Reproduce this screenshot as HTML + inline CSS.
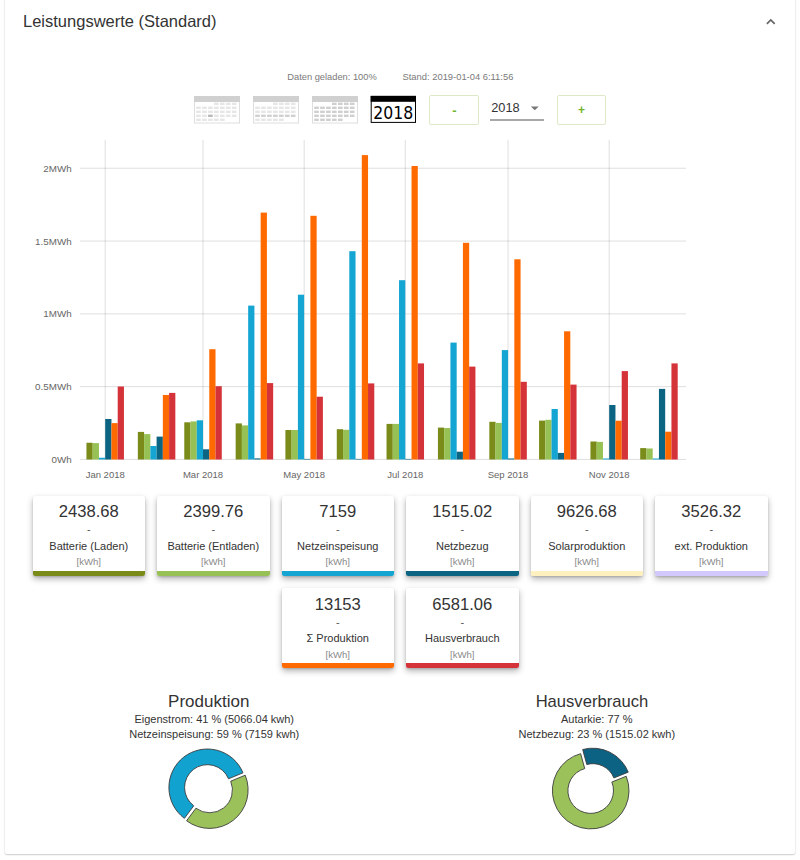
<!DOCTYPE html>
<html><head><meta charset="utf-8"><title>Leistungswerte</title>
<style>
html,body{margin:0;padding:0;background:#fff;}
body{width:800px;height:860px;position:relative;overflow:hidden;font-family:"Liberation Sans",Arial,sans-serif;}
.card{position:absolute;left:5px;top:-20px;width:790px;height:873.8px;background:#fff;border-radius:2px;
 box-shadow:0 1px 1.5px rgba(0,0,0,0.17),0 0 2.5px rgba(0,0,0,0.10);}
.btn{position:absolute;top:95.2px;width:47.6px;height:27.5px;border:1.1px solid #dde9c6;border-radius:2px;background:#fff;}
.sel{position:absolute;left:490.3px;top:119.3px;width:53.6px;height:1.3px;background:#a8a8a8;}
.lc{position:absolute;width:112.5px;height:80px;background:#fff;border-radius:2px;overflow:hidden;
 box-shadow:0 3px 6px rgba(0,0,0,0.30),0 1px 2px rgba(0,0,0,0.14);}
.lc i{position:absolute;left:0;right:0;bottom:0;height:4.6px;}
svg{position:absolute;left:0;top:0;}
.g{stroke:#000;stroke-opacity:0.13;stroke-width:1;}
.yl{font-size:9.8px;fill:#666;text-anchor:end;}
.xl{font-size:9.5px;fill:#666;text-anchor:middle;}
.ds{stroke:#3c3c3c;stroke-width:0.9;}
.t{font-family:"Liberation Sans",Arial,sans-serif;}
.v{font-size:16.6px;fill:#333;text-anchor:middle;}
.d{font-size:11px;fill:#555;text-anchor:middle;}
.l{font-size:11px;fill:#333;text-anchor:middle;}
.u{font-size:9.6px;fill:#8a8a8a;text-anchor:middle;}
</style></head><body>
<div class="card"></div>
<div class="btn" style="left:429px"></div>
<div class="btn" style="left:556.7px"></div>
<div class="sel"></div>
<div class="lc" style="left:32.5px;top:495.5px"><i style="background:#7b8b1a"></i></div>
<div class="lc" style="left:157px;top:495.5px"><i style="background:#97c154"></i></div>
<div class="lc" style="left:281.5px;top:495.5px"><i style="background:#14a5d3"></i></div>
<div class="lc" style="left:406px;top:495.5px"><i style="background:#0b6482"></i></div>
<div class="lc" style="left:530.5px;top:495.5px"><i style="background:#fff0c0"></i></div>
<div class="lc" style="left:655px;top:495.5px"><i style="background:#d2c8fb"></i></div>
<div class="lc" style="left:281.5px;top:588px"><i style="background:#ff6a00"></i></div>
<div class="lc" style="left:406px;top:588px"><i style="background:#d5333a"></i></div>
<svg width="800" height="860" viewBox="0 0 800 860" class="t">
<text x="23" y="26.5" style="font-size:16.5px;fill:#333">Leistungswerte (Standard)</text>
<path d="M766.9,23.8 L770.8,19.9 L774.7,23.8" fill="none" stroke="#666" stroke-width="1.7"/>
<text x="287.3" y="80.2" style="font-size:9.3px;fill:#7a7a7a">Daten geladen: 100%</text>
<text x="402.5" y="80.2" style="font-size:9.4px;fill:#7a7a7a">Stand: 2019-01-04 6:11:56</text>
<g transform="translate(194,96)"><rect x="0.5" y="0.5" width="45" height="26.5" fill="#fff" stroke="#dedede" stroke-width="1"/><rect x="0" y="0" width="46" height="6" fill="#d0d0d0"/><rect x="20.05" y="6.60" width="4.6" height="2.4" fill="#e6e6e6"/><rect x="26.00" y="6.60" width="4.6" height="2.4" fill="#e6e6e6"/><rect x="31.95" y="6.60" width="4.6" height="2.4" fill="#e6e6e6"/><rect x="37.90" y="6.60" width="4.6" height="2.4" fill="#e6e6e6"/><rect x="2.20" y="10.60" width="4.6" height="2.4" fill="#e6e6e6"/><rect x="8.15" y="10.60" width="4.6" height="2.4" fill="#e6e6e6"/><rect x="14.10" y="10.60" width="4.6" height="2.4" fill="#e6e6e6"/><rect x="20.05" y="10.60" width="4.6" height="2.4" fill="#e6e6e6"/><rect x="26.00" y="10.60" width="4.6" height="2.4" fill="#e6e6e6"/><rect x="31.95" y="10.60" width="4.6" height="2.4" fill="#e6e6e6"/><rect x="37.90" y="10.60" width="4.6" height="2.4" fill="#e6e6e6"/><rect x="2.20" y="14.60" width="4.6" height="2.4" fill="#e6e6e6"/><rect x="8.15" y="14.60" width="4.6" height="2.4" fill="#e6e6e6"/><rect x="14.10" y="14.60" width="4.6" height="2.4" fill="#e6e6e6"/><rect x="20.05" y="14.60" width="4.6" height="2.4" fill="#e6e6e6"/><rect x="26.00" y="14.60" width="4.6" height="2.4" fill="#e6e6e6"/><rect x="31.95" y="14.60" width="4.6" height="2.4" fill="#e6e6e6"/><rect x="37.90" y="14.60" width="4.6" height="2.4" fill="#e6e6e6"/><rect x="2.20" y="18.60" width="4.6" height="2.4" fill="#e6e6e6"/><rect x="8.15" y="18.60" width="4.6" height="2.4" fill="#e6e6e6"/><rect x="14.10" y="18.60" width="4.6" height="2.4" fill="#b8b8b8"/><rect x="20.05" y="18.60" width="4.6" height="2.4" fill="#e6e6e6"/><rect x="26.00" y="18.60" width="4.6" height="2.4" fill="#e6e6e6"/><rect x="31.95" y="18.60" width="4.6" height="2.4" fill="#e6e6e6"/><rect x="37.90" y="18.60" width="4.6" height="2.4" fill="#e6e6e6"/><rect x="2.20" y="22.60" width="4.6" height="2.4" fill="#e6e6e6"/><rect x="8.15" y="22.60" width="4.6" height="2.4" fill="#e6e6e6"/><rect x="14.10" y="22.60" width="4.6" height="2.4" fill="#e6e6e6"/><rect x="20.05" y="22.60" width="4.6" height="2.4" fill="#e6e6e6"/><rect x="26.00" y="22.60" width="4.6" height="2.4" fill="#e6e6e6"/></g><g transform="translate(253,96)"><rect x="0.5" y="0.5" width="45" height="26.5" fill="#fff" stroke="#dedede" stroke-width="1"/><rect x="0" y="0" width="46" height="6" fill="#d0d0d0"/><rect x="20.05" y="6.60" width="4.6" height="2.4" fill="#e6e6e6"/><rect x="26.00" y="6.60" width="4.6" height="2.4" fill="#e6e6e6"/><rect x="31.95" y="6.60" width="4.6" height="2.4" fill="#e6e6e6"/><rect x="37.90" y="6.60" width="4.6" height="2.4" fill="#e6e6e6"/><rect x="2.20" y="10.60" width="4.6" height="2.4" fill="#e6e6e6"/><rect x="8.15" y="10.60" width="4.6" height="2.4" fill="#e6e6e6"/><rect x="14.10" y="10.60" width="4.6" height="2.4" fill="#e6e6e6"/><rect x="20.05" y="10.60" width="4.6" height="2.4" fill="#e6e6e6"/><rect x="26.00" y="10.60" width="4.6" height="2.4" fill="#e6e6e6"/><rect x="31.95" y="10.60" width="4.6" height="2.4" fill="#e6e6e6"/><rect x="37.90" y="10.60" width="4.6" height="2.4" fill="#e6e6e6"/><rect x="2.20" y="14.60" width="4.6" height="2.4" fill="#e6e6e6"/><rect x="8.15" y="14.60" width="4.6" height="2.4" fill="#e6e6e6"/><rect x="14.10" y="14.60" width="4.6" height="2.4" fill="#e6e6e6"/><rect x="20.05" y="14.60" width="4.6" height="2.4" fill="#e6e6e6"/><rect x="26.00" y="14.60" width="4.6" height="2.4" fill="#e6e6e6"/><rect x="31.95" y="14.60" width="4.6" height="2.4" fill="#e6e6e6"/><rect x="37.90" y="14.60" width="4.6" height="2.4" fill="#e6e6e6"/><rect x="2.20" y="18.60" width="4.6" height="2.4" fill="#d0d0d0"/><rect x="8.15" y="18.60" width="4.6" height="2.4" fill="#d0d0d0"/><rect x="14.10" y="18.60" width="4.6" height="2.4" fill="#d0d0d0"/><rect x="20.05" y="18.60" width="4.6" height="2.4" fill="#d0d0d0"/><rect x="26.00" y="18.60" width="4.6" height="2.4" fill="#d0d0d0"/><rect x="31.95" y="18.60" width="4.6" height="2.4" fill="#d0d0d0"/><rect x="37.90" y="18.60" width="4.6" height="2.4" fill="#d0d0d0"/><rect x="2.20" y="22.60" width="4.6" height="2.4" fill="#e6e6e6"/><rect x="8.15" y="22.60" width="4.6" height="2.4" fill="#e6e6e6"/><rect x="14.10" y="22.60" width="4.6" height="2.4" fill="#e6e6e6"/><rect x="20.05" y="22.60" width="4.6" height="2.4" fill="#e6e6e6"/><rect x="26.00" y="22.60" width="4.6" height="2.4" fill="#e6e6e6"/></g><g transform="translate(312,96)"><rect x="0.5" y="0.5" width="45" height="26.5" fill="#fff" stroke="#dedede" stroke-width="1"/><rect x="0" y="0" width="46" height="6" fill="#d0d0d0"/><rect x="20.05" y="6.60" width="4.6" height="2.4" fill="#cfcfcf"/><rect x="26.00" y="6.60" width="4.6" height="2.4" fill="#cfcfcf"/><rect x="31.95" y="6.60" width="4.6" height="2.4" fill="#cfcfcf"/><rect x="37.90" y="6.60" width="4.6" height="2.4" fill="#cfcfcf"/><rect x="2.20" y="10.60" width="4.6" height="2.4" fill="#cfcfcf"/><rect x="8.15" y="10.60" width="4.6" height="2.4" fill="#cfcfcf"/><rect x="14.10" y="10.60" width="4.6" height="2.4" fill="#cfcfcf"/><rect x="20.05" y="10.60" width="4.6" height="2.4" fill="#cfcfcf"/><rect x="26.00" y="10.60" width="4.6" height="2.4" fill="#cfcfcf"/><rect x="31.95" y="10.60" width="4.6" height="2.4" fill="#cfcfcf"/><rect x="37.90" y="10.60" width="4.6" height="2.4" fill="#cfcfcf"/><rect x="2.20" y="14.60" width="4.6" height="2.4" fill="#cfcfcf"/><rect x="8.15" y="14.60" width="4.6" height="2.4" fill="#cfcfcf"/><rect x="14.10" y="14.60" width="4.6" height="2.4" fill="#cfcfcf"/><rect x="20.05" y="14.60" width="4.6" height="2.4" fill="#cfcfcf"/><rect x="26.00" y="14.60" width="4.6" height="2.4" fill="#cfcfcf"/><rect x="31.95" y="14.60" width="4.6" height="2.4" fill="#cfcfcf"/><rect x="37.90" y="14.60" width="4.6" height="2.4" fill="#cfcfcf"/><rect x="2.20" y="18.60" width="4.6" height="2.4" fill="#cfcfcf"/><rect x="8.15" y="18.60" width="4.6" height="2.4" fill="#cfcfcf"/><rect x="14.10" y="18.60" width="4.6" height="2.4" fill="#cfcfcf"/><rect x="20.05" y="18.60" width="4.6" height="2.4" fill="#cfcfcf"/><rect x="26.00" y="18.60" width="4.6" height="2.4" fill="#cfcfcf"/><rect x="31.95" y="18.60" width="4.6" height="2.4" fill="#cfcfcf"/><rect x="37.90" y="18.60" width="4.6" height="2.4" fill="#cfcfcf"/><rect x="2.20" y="22.60" width="4.6" height="2.4" fill="#cfcfcf"/><rect x="8.15" y="22.60" width="4.6" height="2.4" fill="#cfcfcf"/><rect x="14.10" y="22.60" width="4.6" height="2.4" fill="#cfcfcf"/><rect x="20.05" y="22.60" width="4.6" height="2.4" fill="#cfcfcf"/><rect x="26.00" y="22.60" width="4.6" height="2.4" fill="#cfcfcf"/></g>
<g>
<rect x="371.2" y="96.4" width="44.3" height="26" fill="#fff" stroke="#000" stroke-width="1"/>
<rect x="370.7" y="95.9" width="45.3" height="5.9" fill="#000"/>
<text x="0" y="0" transform="translate(393.2,118.5) scale(0.93,1)" style="font-family:'DejaVu Sans',sans-serif;font-size:16.9px;fill:#000;text-anchor:middle">2018</text>
</g>
<text x="454.3" y="114.6" style="font-size:13px;font-weight:bold;fill:#72b52c;text-anchor:middle">-</text>
<text x="491.2" y="111.75" style="font-size:12.8px;fill:#333">2018</text>
<path d="M530.9,106.5 L538.7,106.5 L534.8,110.3Z" fill="#777"/>
<text x="581.4" y="114" style="font-size:12px;font-weight:bold;fill:#72b52c;text-anchor:middle">+</text>
<line x1="80" x2="686" y1="459.45" y2="459.45" class="g"/>
<text x="71.6" y="462.95" class="yl">0Wh</text>
<line x1="80" x2="686" y1="386.65" y2="386.65" class="g"/>
<text x="71.6" y="390.15" class="yl">0.5MWh</text>
<line x1="80" x2="686" y1="313.85" y2="313.85" class="g"/>
<text x="71.6" y="317.35" class="yl">1MWh</text>
<line x1="80" x2="686" y1="241.05" y2="241.05" class="g"/>
<text x="71.6" y="244.55" class="yl">1.5MWh</text>
<line x1="80" x2="686" y1="168.25" y2="168.25" class="g"/>
<text x="71.6" y="171.75" class="yl">2MWh</text>
<line x1="105.20" x2="105.20" y1="139.8" y2="459.50" class="g"/>
<text x="105.20" y="477.9" class="xl">Jan 2018</text>
<line x1="203.02" x2="203.02" y1="139.8" y2="459.50" class="g"/>
<text x="203.02" y="477.9" class="xl">Mar 2018</text>
<line x1="304.15" x2="304.15" y1="139.8" y2="459.50" class="g"/>
<text x="304.15" y="477.9" class="xl">May 2018</text>
<line x1="405.28" x2="405.28" y1="139.8" y2="459.50" class="g"/>
<text x="405.28" y="477.9" class="xl">Jul 2018</text>
<line x1="508.07" x2="508.07" y1="139.8" y2="459.50" class="g"/>
<text x="508.07" y="477.9" class="xl">Sep 2018</text>
<line x1="609.20" x2="609.20" y1="139.8" y2="459.50" class="g"/>
<text x="609.20" y="477.9" class="xl">Nov 2018</text>
<rect x="86.45" y="442.75" width="6.25" height="16.75" fill="#7b8b1a"/>
<rect x="92.70" y="443.10" width="6.25" height="16.40" fill="#97c154"/>
<rect x="98.95" y="457.75" width="6.25" height="1.75" fill="#14a5d3"/>
<rect x="105.20" y="419.00" width="6.25" height="40.50" fill="#0b6482"/>
<rect x="111.45" y="423.10" width="6.25" height="36.40" fill="#ff6a00"/>
<rect x="117.70" y="386.50" width="6.25" height="73.00" fill="#d5333a"/>
<rect x="137.84" y="431.90" width="6.25" height="27.60" fill="#7b8b1a"/>
<rect x="144.09" y="434.10" width="6.25" height="25.40" fill="#97c154"/>
<rect x="150.34" y="446.00" width="6.25" height="13.50" fill="#14a5d3"/>
<rect x="156.59" y="436.60" width="6.25" height="22.90" fill="#0b6482"/>
<rect x="162.84" y="395.00" width="6.25" height="64.50" fill="#ff6a00"/>
<rect x="169.09" y="392.90" width="6.25" height="66.60" fill="#d5333a"/>
<rect x="184.27" y="422.30" width="6.25" height="37.20" fill="#7b8b1a"/>
<rect x="190.52" y="421.40" width="6.25" height="38.10" fill="#97c154"/>
<rect x="196.77" y="420.30" width="6.25" height="39.20" fill="#14a5d3"/>
<rect x="203.02" y="449.30" width="6.25" height="10.20" fill="#0b6482"/>
<rect x="209.27" y="349.20" width="6.25" height="110.30" fill="#ff6a00"/>
<rect x="215.52" y="386.20" width="6.25" height="73.30" fill="#d5333a"/>
<rect x="235.66" y="423.40" width="6.25" height="36.10" fill="#7b8b1a"/>
<rect x="241.91" y="425.40" width="6.25" height="34.10" fill="#97c154"/>
<rect x="248.16" y="305.60" width="6.25" height="153.90" fill="#14a5d3"/>
<rect x="254.41" y="458.40" width="6.25" height="1.10" fill="#0b6482"/>
<rect x="260.66" y="212.60" width="6.25" height="246.90" fill="#ff6a00"/>
<rect x="266.91" y="383.10" width="6.25" height="76.40" fill="#d5333a"/>
<rect x="285.40" y="430.00" width="6.25" height="29.50" fill="#7b8b1a"/>
<rect x="291.65" y="430.00" width="6.25" height="29.50" fill="#97c154"/>
<rect x="297.90" y="294.70" width="6.25" height="164.80" fill="#14a5d3"/>
<rect x="304.15" y="458.90" width="6.25" height="0.60" fill="#0b6482"/>
<rect x="310.40" y="215.80" width="6.25" height="243.70" fill="#ff6a00"/>
<rect x="316.65" y="396.70" width="6.25" height="62.80" fill="#d5333a"/>
<rect x="336.79" y="429.20" width="6.25" height="30.30" fill="#7b8b1a"/>
<rect x="343.04" y="429.80" width="6.25" height="29.70" fill="#97c154"/>
<rect x="349.29" y="251.20" width="6.25" height="208.30" fill="#14a5d3"/>
<rect x="355.54" y="458.90" width="6.25" height="0.60" fill="#0b6482"/>
<rect x="361.79" y="155.10" width="6.25" height="304.40" fill="#ff6a00"/>
<rect x="368.04" y="383.40" width="6.25" height="76.10" fill="#d5333a"/>
<rect x="386.53" y="423.90" width="6.25" height="35.60" fill="#7b8b1a"/>
<rect x="392.78" y="423.90" width="6.25" height="35.60" fill="#97c154"/>
<rect x="399.03" y="280.20" width="6.25" height="179.30" fill="#14a5d3"/>
<rect x="405.28" y="458.90" width="6.25" height="0.60" fill="#0b6482"/>
<rect x="411.53" y="166.00" width="6.25" height="293.50" fill="#ff6a00"/>
<rect x="417.78" y="363.40" width="6.25" height="96.10" fill="#d5333a"/>
<rect x="437.92" y="427.60" width="6.25" height="31.90" fill="#7b8b1a"/>
<rect x="444.17" y="428.00" width="6.25" height="31.50" fill="#97c154"/>
<rect x="450.42" y="342.60" width="6.25" height="116.90" fill="#14a5d3"/>
<rect x="456.67" y="451.70" width="6.25" height="7.80" fill="#0b6482"/>
<rect x="462.92" y="242.80" width="6.25" height="216.70" fill="#ff6a00"/>
<rect x="469.17" y="366.60" width="6.25" height="92.90" fill="#d5333a"/>
<rect x="489.32" y="421.80" width="6.25" height="37.70" fill="#7b8b1a"/>
<rect x="495.57" y="422.90" width="6.25" height="36.60" fill="#97c154"/>
<rect x="501.82" y="350.10" width="6.25" height="109.40" fill="#14a5d3"/>
<rect x="508.07" y="458.50" width="6.25" height="1.00" fill="#0b6482"/>
<rect x="514.32" y="259.30" width="6.25" height="200.20" fill="#ff6a00"/>
<rect x="520.57" y="381.80" width="6.25" height="77.70" fill="#d5333a"/>
<rect x="539.06" y="420.60" width="6.25" height="38.90" fill="#7b8b1a"/>
<rect x="545.31" y="419.80" width="6.25" height="39.70" fill="#97c154"/>
<rect x="551.56" y="409.00" width="6.25" height="50.50" fill="#14a5d3"/>
<rect x="557.81" y="452.90" width="6.25" height="6.60" fill="#0b6482"/>
<rect x="564.06" y="331.30" width="6.25" height="128.20" fill="#ff6a00"/>
<rect x="570.31" y="384.60" width="6.25" height="74.90" fill="#d5333a"/>
<rect x="590.45" y="441.50" width="6.25" height="18.00" fill="#7b8b1a"/>
<rect x="596.70" y="441.90" width="6.25" height="17.60" fill="#97c154"/>
<rect x="602.95" y="458.50" width="6.25" height="1.00" fill="#14a5d3"/>
<rect x="609.20" y="405.00" width="6.25" height="54.50" fill="#0b6482"/>
<rect x="615.45" y="420.70" width="6.25" height="38.80" fill="#ff6a00"/>
<rect x="621.70" y="371.10" width="6.25" height="88.40" fill="#d5333a"/>
<rect x="640.19" y="448.10" width="6.25" height="11.40" fill="#7b8b1a"/>
<rect x="646.44" y="448.50" width="6.25" height="11.00" fill="#97c154"/>
<rect x="652.69" y="458.50" width="6.25" height="1.00" fill="#14a5d3"/>
<rect x="658.94" y="388.90" width="6.25" height="70.60" fill="#0b6482"/>
<rect x="665.19" y="431.70" width="6.25" height="27.80" fill="#ff6a00"/>
<rect x="671.44" y="363.40" width="6.25" height="96.10" fill="#d5333a"/>
<!-- legend texts -->
<g>
<text x="88.75" y="517" class="v">2438.68</text><text x="88.75" y="533" class="d">-</text><text x="88.75" y="549.75" class="l">Batterie (Laden)</text><text x="88.75" y="565" class="u">[kWh]</text>
<text x="213.25" y="517" class="v">2399.76</text><text x="213.25" y="533" class="d">-</text><text x="213.25" y="549.75" class="l">Batterie (Entladen)</text><text x="213.25" y="565" class="u">[kWh]</text>
<text x="337.75" y="517" class="v">7159</text><text x="337.75" y="533" class="d">-</text><text x="337.75" y="549.75" class="l">Netzeinspeisung</text><text x="337.75" y="565" class="u">[kWh]</text>
<text x="462.25" y="517" class="v">1515.02</text><text x="462.25" y="533" class="d">-</text><text x="462.25" y="549.75" class="l">Netzbezug</text><text x="462.25" y="565" class="u">[kWh]</text>
<text x="586.75" y="517" class="v">9626.68</text><text x="586.75" y="533" class="d">-</text><text x="586.75" y="549.75" class="l">Solarproduktion</text><text x="586.75" y="565" class="u">[kWh]</text>
<text x="711.25" y="517" class="v">3526.32</text><text x="711.25" y="533" class="d">-</text><text x="711.25" y="549.75" class="l">ext. Produktion</text><text x="711.25" y="565" class="u">[kWh]</text>
<text x="337.75" y="609.5" class="v">13153</text><text x="337.75" y="625.5" class="d">-</text><text x="337.75" y="642.25" class="l">Σ Produktion</text><text x="337.75" y="657.5" class="u">[kWh]</text>
<text x="462.25" y="609.5" class="v">6581.06</text><text x="462.25" y="625.5" class="d">-</text><text x="462.25" y="642.25" class="l">Hausverbrauch</text><text x="462.25" y="657.5" class="u">[kWh]</text>
</g>
<text x="208.75" y="707" style="font-size:17px;fill:#333;text-anchor:middle">Produktion</text>
<text x="214.25" y="722.5" style="font-size:11px;fill:#333;text-anchor:middle">Eigenstrom: 41 % (5066.04 kwh)</text>
<text x="214.25" y="737.5" style="font-size:11px;fill:#333;text-anchor:middle">Netzeinspeisung: 59 % (7159 kwh)</text>
<text x="591.9" y="707" style="font-size:16.6px;fill:#333;text-anchor:middle">Hausverbrauch</text>
<text x="596.8" y="722.5" style="font-size:11px;fill:#333;text-anchor:middle">Autarkie: 77 %</text>
<text x="596.8" y="737.5" style="font-size:11px;fill:#333;text-anchor:middle">Netzbezug: 23 % (1515.02 kwh)</text>
<path d="M184.39,818.37A38.5,38.5 0 1 1 243.00,772.83L228.53,778.79A22.85,22.85 0 1 0 193.74,805.82Z" fill="#11a2d0" class="ds"/>
<path d="M245.20,775.23A38.5,38.5 0 0 1 186.59,820.77L195.94,808.22A22.85,22.85 0 0 0 230.73,781.19Z" fill="#9bc15b" class="ds"/>
<path d="M626.21,776.25A38.3,38.3 0 1 1 580.66,753.64L584.72,768.60A22.8,22.8 0 1 0 611.84,782.06Z" fill="#9bc15b" class="ds"/>
<path d="M582.70,749.52A38.3,38.3 0 0 1 628.26,772.13L613.89,777.94A22.8,22.8 0 0 0 586.77,764.48Z" fill="#0c6282" class="ds"/>
</svg>
</body></html>
